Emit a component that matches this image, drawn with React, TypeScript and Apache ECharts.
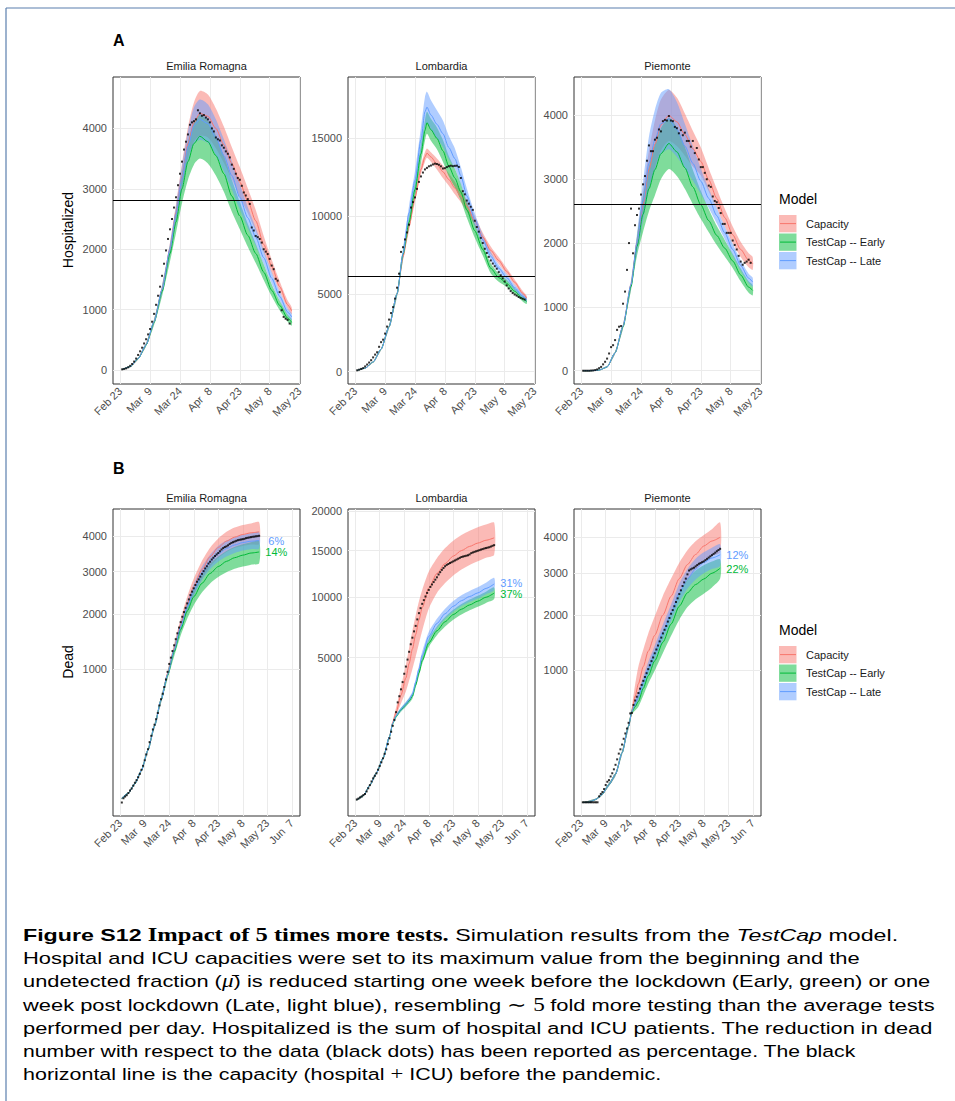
import React, { useEffect, useRef } from 'react';
import * as echarts from 'echarts';

// ---------- styles ----------
const SANS = '"Liberation Sans", Arial, Helvetica, sans-serif';
const SERIF = '"Liberation Serif", "Times New Roman", serif';
const RED = '#F8766D', GREEN = '#00BA38', BLUE = '#619CFF';
const RED_F = 'rgba(248,118,109,0.5)', GREEN_F = 'rgba(0,186,56,0.5)', BLUE_F = 'rgba(97,156,255,0.5)';

// ---------- axes ----------
const tickDaysA = [0, 15, 30, 45, 60, 75, 90];
const tickDaysB = [0, 15, 30, 45, 60, 75, 90, 105];
const tickLabels = ['Feb 23', 'Mar  9', 'Mar 24', 'Apr  8', 'Apr 23', 'May  8', 'May 23', 'Jun  7'];
const regions = ['Emilia Romagna', 'Lombardia', 'Piemonte'];
const modelNames = ['Capacity', 'TestCap -- Early', 'TestCap -- Late'];

// ---------- A: Hospitalized ----------
const gridA = [1, 5, 9, 13, 17, 21, 25, 28, 31, 34, 37, 40, 44, 48, 52, 56, 60, 64, 68, 72, 76, 80, 84, 86];
const gridL = [1, 5, 9, 13, 17, 21, 24, 27, 30, 33, 35, 36, 38, 41, 44, 47, 50, 53, 56, 60, 64, 68, 72, 76, 80, 84, 86];

const erCapMean = [10, 55, 190, 420, 800, 1330, 2000, 2600, 3200, 3750, 4100, 4250, 4200, 4000, 3730, 3420, 3110, 2800, 2470, 2080, 1720, 1380, 1080, 980];
const erCapLo = [9, 52, 180, 400, 765, 1270, 1900, 2460, 3000, 3500, 3780, 3880, 3850, 3670, 3430, 3160, 2870, 2600, 2300, 1950, 1610, 1300, 1020, 925];
const erCapHi = [11, 58, 200, 445, 840, 1400, 2110, 2750, 3420, 4020, 4430, 4620, 4560, 4330, 4030, 3690, 3360, 3010, 2650, 2220, 1830, 1470, 1150, 1040];
const erEarlyMean = [10, 55, 188, 415, 790, 1300, 1930, 2450, 3000, 3450, 3750, 3870, 3780, 3550, 3250, 2880, 2550, 2230, 1930, 1620, 1320, 1070, 860, 790];
const erEarlyLo = [9, 52, 178, 392, 745, 1220, 1800, 2270, 2760, 3150, 3400, 3500, 3420, 3220, 2950, 2620, 2330, 2040, 1770, 1490, 1220, 990, 800, 735];
const erEarlyHi = [11, 58, 198, 440, 835, 1380, 2060, 2640, 3250, 3760, 4100, 4220, 4130, 3880, 3550, 3150, 2780, 2420, 2090, 1750, 1420, 1150, 920, 845];
const erLateMean = [10, 55, 190, 420, 800, 1330, 2000, 2580, 3180, 3700, 4050, 4150, 4080, 3850, 3550, 3220, 2860, 2520, 2200, 1860, 1520, 1220, 960, 880];
const erLateLo = [9, 52, 180, 400, 765, 1270, 1900, 2450, 2990, 3450, 3750, 3810, 3760, 3560, 3290, 2990, 2660, 2350, 2060, 1750, 1430, 1150, 905, 830];
const erLateHi = [11, 58, 200, 445, 840, 1400, 2100, 2720, 3380, 3950, 4350, 4480, 4400, 4150, 3820, 3460, 3080, 2700, 2350, 1980, 1620, 1300, 1020, 935];
const erHospData = [12, 18, 28, 45, 70, 100, 140, 190, 250, 310, 370, 440, 510, 590, 680, 800, 930, 1080, 1230, 1380, 1560, 1760, 1980, 2170, 2330, 2500, 2690, 2860, 3060, 3250, 3450, 3650, 3780, 3900, 4060, 4100, 4120, 4150, 4300, 4250, 4210, 4220, 4180, 4150, 4100, 4000, 3950, 3850, 3820, 3800, 3720, 3680, 3620, 3580, 3520, 3400, 3330, 3250, 3180, 3150, 3050, 2940, 2890, 2830, 2750, 2360, 2310, 2220, 2200, 2170, 2110, 2000, 1960, 1920, 1840, 1730, 1670, 1510, 1480, 1290, 990, 880, 850, 830, 770];

const lomCapMean = [80, 230, 620, 1450, 2900, 5000, 7400, 9350, 11200, 13000, 13800, 14050, 13800, 13350, 12850, 12350, 11800, 11270, 10650, 9700, 8650, 7800, 7150, 6450, 5750, 5050, 4740];
const lomCapLo = [77, 223, 600, 1405, 2810, 4850, 7150, 9050, 10900, 12700, 13500, 13750, 13500, 13000, 12450, 11950, 11400, 10890, 10300, 9400, 8370, 7550, 6930, 6250, 5570, 4900, 4600];
const lomCapHi = [83, 237, 640, 1495, 2990, 5150, 7650, 9650, 11500, 13300, 14100, 14350, 14100, 13700, 13250, 12750, 12200, 11650, 11000, 10000, 8930, 8050, 7370, 6650, 5930, 5200, 4880];
const lomEarlyMean = [80, 230, 620, 1450, 2900, 5000, 7550, 9600, 11700, 14000, 15500, 16000, 15550, 15000, 14200, 13200, 12450, 11550, 10400, 9060, 7850, 6650, 6050, 5680, 5170, 4700, 4520];
const lomEarlyLo = [77, 223, 600, 1405, 2810, 4850, 7250, 9200, 11200, 13400, 14850, 15300, 14850, 14300, 13500, 12550, 11850, 11000, 9900, 8610, 7470, 6330, 5780, 5450, 4970, 4520, 4360];
const lomEarlyHi = [83, 237, 640, 1495, 2990, 5150, 7850, 10000, 12200, 14600, 16150, 16700, 16250, 15700, 14900, 13850, 13050, 12100, 10900, 9510, 8230, 6970, 6320, 5910, 5370, 4880, 4680];
const lomLateMean = [80, 230, 620, 1450, 2900, 5000, 7600, 10200, 12300, 14900, 16700, 17000, 16500, 15900, 15300, 14400, 13700, 12600, 11300, 9780, 8480, 7420, 6650, 6050, 5400, 4850, 4630];
const lomLateLo = [77, 223, 600, 1405, 2810, 4850, 7300, 9750, 11700, 14100, 15750, 16000, 15550, 15000, 14450, 13650, 13050, 12050, 10820, 9380, 8160, 7150, 6420, 5850, 5220, 4690, 4480];
const lomLateHi = [83, 237, 640, 1495, 2990, 5150, 7900, 10650, 12900, 15700, 17650, 18000, 17450, 16800, 16150, 15150, 14350, 13150, 11780, 10180, 8800, 7690, 6880, 6250, 5580, 5010, 4780];
const lomHospData = [90, 130, 180, 230, 340, 460, 590, 740, 920, 1100, 1250, 1600, 1900, 2060, 2450, 2900, 3350, 3770, 4150, 4700, 5400, 6300, 7700, 8000, 8500, 8950, 9450, 10550, 10900, 11200, 11750, 12200, 12550, 12800, 13000, 13100, 13200, 13250, 13320, 13370, 13350, 13300, 13200, 13060, 13080, 13150, 13210, 13240, 13210, 13230, 13240, 13160, 12450, 11600, 11400, 11000, 10800, 10600, 10400, 9700, 9300, 9000, 8600, 8270, 7900, 7630, 7380, 7150, 6950, 6780, 6620, 6400, 6200, 6000, 5800, 5550, 5350, 5180, 5060, 4960, 4890, 4800, 4740, 4690, 4640];

const pieCapMean = [0, 0, 10, 60, 280, 700, 1350, 2000, 2600, 3150, 3550, 3850, 4000, 3900, 3700, 3480, 3280, 2990, 2700, 2400, 2130, 1900, 1730, 1680];
const pieCapLo = [0, 0, 8, 55, 265, 670, 1290, 1900, 2400, 2850, 3180, 3450, 3600, 3520, 3370, 3200, 3060, 2810, 2550, 2260, 2000, 1780, 1620, 1580];
const pieCapHi = [0, 1, 12, 65, 295, 730, 1410, 2100, 2800, 3450, 3920, 4250, 4400, 4280, 4030, 3760, 3500, 3170, 2850, 2540, 2260, 2020, 1840, 1780];
const pieEarlyMean = [0, 0, 10, 60, 280, 690, 1320, 1950, 2450, 2850, 3150, 3400, 3560, 3430, 3180, 2880, 2600, 2350, 2120, 1920, 1720, 1500, 1310, 1260];
const pieEarlyLo = [0, 0, 8, 55, 265, 660, 1260, 1800, 2170, 2500, 2750, 3000, 3160, 3050, 2850, 2610, 2380, 2170, 1970, 1790, 1610, 1400, 1220, 1180];
const pieEarlyHi = [0, 1, 12, 65, 295, 720, 1380, 2100, 2730, 3200, 3550, 3800, 3960, 3810, 3510, 3150, 2820, 2530, 2270, 2050, 1830, 1600, 1400, 1340];
const pieLateMean = [0, 0, 10, 60, 280, 700, 1350, 2000, 2650, 3250, 3620, 3870, 3940, 3780, 3520, 3250, 2970, 2700, 2430, 2160, 1900, 1650, 1450, 1390];
const pieLateLo = [0, 0, 8, 55, 265, 670, 1290, 1850, 2350, 2830, 3150, 3390, 3470, 3350, 3170, 2980, 2770, 2550, 2310, 2060, 1810, 1570, 1380, 1320];
const pieLateHi = [0, 1, 12, 65, 295, 730, 1410, 2150, 2950, 3670, 4090, 4350, 4410, 4210, 3870, 3520, 3170, 2850, 2550, 2260, 1990, 1730, 1520, 1460];
const pieHospData = [0, 0, 0, 0, 3, 5, 10, 20, 40, 60, 100, 140, 190, 270, 370, 400, 480, 640, 690, 700, 1050, 1240, 1580, 2000, 2540, 1840, 2280, 2440, 2540, 2760, 2920, 3050, 3290, 3530, 3440, 3440, 3620, 3650, 3780, 3750, 3910, 3930, 3920, 3990, 3920, 3910, 3820, 3800, 3720, 3770, 3690, 3730, 3600, 3600, 3510, 3600, 3410, 3490, 3310, 3190, 3190, 3100, 3000, 2900, 2880, 2730, 2660, 2640, 2550, 2470, 2300, 2300, 2160, 2160, 2160, 2040, 1970, 1900, 1800, 1710, 1660, 1690, 1710, 1740, 1690];

const hospCapacity = [2815, 6105, 2604];

// ---------- B: Dead ----------
const gridB1 = [1, 5, 9, 13, 17, 21, 25, 29, 33, 37, 41, 45, 50, 55, 60, 65, 70, 75, 80, 85];
const gridB2 = [1, 5, 9, 13, 17, 21, 23, 25, 28, 31, 33, 35, 37, 39, 41, 45, 50, 55, 60, 65, 70, 75, 80, 85];
const gridB3 = [1, 5, 9, 13, 17, 21, 25, 29, 31, 33, 35, 38, 41, 45, 50, 55, 60, 65, 70, 75, 80, 85];

const erDCapMean = [1, 5, 20, 58, 155, 330, 590, 930, 1330, 1780, 2220, 2620, 3050, 3400, 3660, 3840, 3960, 4040, 4090, 4120];
const erDCapLo = [0.6, 4.5, 18, 54, 146, 312, 560, 880, 1250, 1660, 2060, 2420, 2800, 3120, 3360, 3530, 3640, 3700, 3740, 3760];
const erDCapHi = [1.4, 5.5, 22, 62, 164, 348, 620, 980, 1420, 1900, 2380, 2820, 3280, 3650, 3920, 4120, 4250, 4330, 4380, 4420];
const erDEarlyMean = [1, 5, 20, 58, 155, 330, 590, 910, 1280, 1680, 2060, 2380, 2700, 2950, 3130, 3270, 3370, 3440, 3500, 3530];
const erDEarlyLo = [0.6, 4.5, 18, 54, 146, 312, 560, 860, 1200, 1570, 1900, 2190, 2480, 2700, 2860, 2980, 3070, 3130, 3180, 3220];
const erDEarlyHi = [1.4, 5.5, 22, 62, 164, 348, 620, 960, 1360, 1800, 2220, 2580, 2920, 3200, 3400, 3560, 3670, 3750, 3810, 3850];
const erDLateMean = [1, 5, 20, 58, 155, 330, 590, 920, 1310, 1740, 2160, 2540, 2950, 3260, 3480, 3630, 3730, 3800, 3840, 3860];
const erDLateLo = [0.6, 4.5, 18, 54, 146, 312, 560, 880, 1250, 1650, 2050, 2400, 2780, 3060, 3260, 3400, 3500, 3570, 3610, 3630];
const erDLateHi = [1.4, 5.5, 22, 62, 164, 348, 620, 960, 1380, 1830, 2280, 2680, 3120, 3450, 3700, 3860, 3960, 4030, 4080, 4110];
const erDeadData = [0, 1, 2, 3, 5, 8, 11, 16, 22, 28, 36, 46, 60, 76, 100, 130, 160, 205, 250, 300, 340, 390, 450, 530, 600, 665, 750, 850, 960, 1080, 1180, 1290, 1390, 1500, 1610, 1720, 1830, 1940, 2040, 2130, 2230, 2320, 2420, 2500, 2580, 2660, 2740, 2800, 2870, 2940, 3010, 3080, 3140, 3210, 3260, 3320, 3370, 3420, 3460, 3500, 3550, 3600, 3640, 3670, 3690, 3720, 3760, 3790, 3810, 3830, 3850, 3870, 3880, 3890, 3900, 3910, 3930, 3940, 3950, 3960, 3970, 3975, 3985, 3990, 4000];

const lomDCapMean = [3, 15, 80, 220, 480, 1050, 1550, 1950, 2750, 3700, 4600, 5600, 6700, 7900, 9000, 10900, 12400, 13500, 14350, 15000, 15500, 15900, 16250, 16550];
const lomDCapLo = [2.5, 13, 74, 205, 455, 1000, 1480, 1800, 2350, 2950, 3550, 4250, 5050, 6000, 7000, 8900, 10400, 11400, 12200, 12850, 13350, 13750, 14150, 14500];
const lomDCapHi = [3.5, 17, 86, 235, 505, 1100, 1620, 2150, 3200, 4500, 5700, 7000, 8300, 9600, 10700, 12600, 14100, 15300, 16200, 16900, 17450, 17900, 18250, 18500];
const lomDEarlyMean = [3, 15, 80, 220, 480, 1050, 1500, 1780, 2060, 2300, 2480, 2700, 3300, 4000, 4800, 6050, 7000, 7750, 8370, 8850, 9250, 9600, 9980, 10380];
const lomDEarlyLo = [2.5, 13, 74, 205, 455, 1000, 1450, 1720, 1980, 2200, 2370, 2580, 3150, 3800, 4560, 5750, 6650, 7350, 7930, 8380, 8760, 9080, 9440, 9800];
const lomDEarlyHi = [3.5, 17, 86, 235, 505, 1100, 1550, 1840, 2140, 2400, 2600, 2830, 3450, 4200, 5050, 6350, 7350, 8150, 8800, 9330, 9750, 10120, 10520, 10950];
const lomDLateMean = [3, 15, 80, 220, 480, 1050, 1520, 1800, 2080, 2330, 2520, 2800, 3450, 4250, 5150, 6550, 7600, 8450, 9120, 9650, 10050, 10400, 10850, 11300];
const lomDLateLo = [2.5, 13, 74, 205, 455, 1000, 1470, 1740, 2000, 2230, 2410, 2680, 3300, 4050, 4880, 6200, 7200, 8000, 8630, 9140, 9520, 9850, 10280, 10700];
const lomDLateHi = [3.5, 17, 86, 235, 505, 1100, 1570, 1860, 2160, 2430, 2640, 2940, 3620, 4460, 5420, 6900, 8000, 8900, 9620, 10180, 10600, 10960, 11430, 11950];
const lomDeadData = [4, 6, 9, 12, 17, 22, 35, 55, 80, 115, 150, 180, 215, 270, 330, 400, 480, 580, 690, 830, 1000, 1210, 1420, 1640, 1960, 2400, 2700, 3060, 3460, 3950, 4400, 4860, 5400, 5950, 6450, 6950, 7400, 7950, 8500, 8950, 9350, 9700, 10050, 10400, 10700, 11000, 11250, 11500, 11750, 12000, 12300, 12550, 12800, 13000, 13200, 13350, 13450, 13550, 13650, 13750, 13850, 13950, 14050, 14150, 14250, 14300, 14350, 14400, 14450, 14550, 14700, 14780, 14850, 14920, 14980, 15050, 15120, 15180, 15250, 15300, 15350, 15400, 15480, 15570, 15650];

const pieDCapMean = [0, 0, 0.5, 4, 18, 45, 140, 330, 470, 640, 800, 1050, 1300, 1590, 2000, 2420, 2850, 3220, 3500, 3740, 3890, 4000];
const pieDCapLo = [0, 0, 0.3, 3, 15, 40, 130, 310, 430, 540, 620, 820, 1030, 1280, 1650, 2050, 2460, 2800, 3080, 3300, 3450, 3560];
const pieDCapHi = [0, 0.2, 0.8, 5, 21, 50, 150, 350, 520, 790, 1050, 1330, 1620, 1970, 2430, 2850, 3270, 3620, 3880, 4070, 4250, 4460];
const pieDEarlyMean = [0, 0, 0.5, 4, 18, 45, 140, 330, 470, 520, 580, 740, 910, 1140, 1460, 1810, 2190, 2500, 2700, 2840, 2990, 3120];
const pieDEarlyLo = [0, 0, 0.3, 3, 15, 40, 130, 310, 440, 480, 520, 650, 800, 990, 1270, 1580, 1900, 2170, 2350, 2480, 2630, 2850];
const pieDEarlyHi = [0, 0.2, 0.8, 5, 21, 50, 150, 350, 500, 570, 650, 840, 1030, 1300, 1660, 2050, 2480, 2830, 3060, 3200, 3300, 3360];
const pieDLateMean = [0, 0, 0.5, 4, 18, 45, 140, 330, 470, 560, 640, 820, 1020, 1280, 1650, 2050, 2500, 2850, 3100, 3280, 3400, 3490];
const pieDLateLo = [0, 0, 0.3, 3, 15, 40, 130, 310, 450, 520, 590, 750, 930, 1160, 1500, 1870, 2280, 2600, 2830, 2990, 3100, 3180];
const pieDLateHi = [0, 0.2, 0.8, 5, 21, 50, 150, 350, 490, 600, 700, 900, 1120, 1400, 1800, 2230, 2720, 3100, 3380, 3560, 3690, 3790];
const pieDeadData = [0, 0, 0, 0, 0, 0, 0, 0, 0, 0, 2, 4, 6, 10, 17, 24, 28, 38, 48, 62, 80, 105, 135, 160, 190, 230, 270, 310, 360, 450, 455, 540, 590, 635, 680, 735, 785, 840, 895, 950, 1010, 1070, 1135, 1195, 1265, 1330, 1400, 1475, 1545, 1625, 1695, 1770, 1860, 1935, 2025, 2105, 2190, 2285, 2370, 2470, 2560, 2665, 2755, 2850, 2960, 3060, 3090, 3115, 3135, 3170, 3205, 3240, 3260, 3285, 3305, 3340, 3375, 3410, 3445, 3480, 3515, 3550, 3590, 3625, 3660];

// reduction labels: [text, day, value]
const erPct: [string, number, number][] = [['6%', 95.5, 3855], ['14%', 95.5, 3517]];
const lomPct: [string, number, number][] = [['31%', 95.5, 11450], ['37%', 95.5, 10300]];
const piePct: [string, number, number][] = [['12%', 95.5, 3485], ['22%', 95.5, 3101]];

// ---------- caption ----------
const captionLines: [string, string][][] = [
  [['fb', 'Figure S12'], ['sb', ' Impact of 5 times more tests.'], ['n', ' Simulation results from the '], ['it', 'TestCap'], ['n', ' model.']],
  [['n', 'Hospital and ICU capacities were set to its maximum value from the beginning and the']],
  [['n', 'undetected fraction ('], ['si', '\u03bc\u0304'], ['n', ') is reduced starting one week before the lockdown (Early, green) or one']],
  [['n', 'week post lockdown (Late, light blue), resembling '], ['sr', '\u223c 5'], ['n', ' fold more testing than the average tests']],
  [['n', 'performed per day. Hospitalized is the sum of hospital and ICU patients. The reduction in dead']],
  [['n', 'number with respect to the data (black dots) has been reported as percentage. The black']],
  [['n', 'horizontal line is the capacity (hospital '], ['sr', '+'], ['n', ' ICU) before the pandemic.']],
];
const captionRight = [898, 860, 931, 935, 933, 856, 661];

type Model = { lo: number[]; mean: number[]; hi: number[] };
interface Panel {
  title: string; left: number; top: number; days: number[];
  cap: Model; early: Model; late: Model; dots: number[];
  yMin: number; yMax: number; yTicks: number[]; sqrt: boolean;
  xMin: number; xMax: number; xTicks: number[];
  capacity?: number; pct?: [string, number, number][];
}

const GL = [113, 348, 574];
const GW = 187, GH = 307, TOPA = 77, TOPB = 509;
const SM = 0.25;

function buildOption() {
  const panels: Panel[] = [
    { title: regions[0], left: GL[0], top: TOPA, days: gridA, cap: { lo: erCapLo, mean: erCapMean, hi: erCapHi }, early: { lo: erEarlyLo, mean: erEarlyMean, hi: erEarlyHi }, late: { lo: erLateLo, mean: erLateMean, hi: erLateHi }, dots: erHospData, yMin: -231, yMax: 4851, yTicks: [0, 1000, 2000, 3000, 4000], sqrt: false, xMin: -3.6, xMax: 90.2, xTicks: tickDaysA, capacity: hospCapacity[0] },
    { title: regions[1], left: GL[1], top: TOPA, days: gridL, cap: { lo: lomCapLo, mean: lomCapMean, hi: lomCapHi }, early: { lo: lomEarlyLo, mean: lomEarlyMean, hi: lomEarlyHi }, late: { lo: lomLateLo, mean: lomLateMean, hi: lomLateHi }, dots: lomHospData, yMin: -790, yMax: 18940, yTicks: [0, 5000, 10000, 15000], sqrt: false, xMin: -3.6, xMax: 90.2, xTicks: tickDaysA, capacity: hospCapacity[1] },
    { title: regions[2], left: GL[2], top: TOPA, days: gridA, cap: { lo: pieCapLo, mean: pieCapMean, hi: pieCapHi }, early: { lo: pieEarlyLo, mean: pieEarlyMean, hi: pieEarlyHi }, late: { lo: pieLateLo, mean: pieLateMean, hi: pieLateHi }, dots: pieHospData, yMin: -208, yMax: 4602, yTicks: [0, 1000, 2000, 3000, 4000], sqrt: false, xMin: -3.6, xMax: 90.2, xTicks: tickDaysA, capacity: hospCapacity[2] },
    { title: regions[0], left: GL[0], top: TOPB, days: gridB1, cap: { lo: erDCapLo, mean: erDCapMean, hi: erDCapHi }, early: { lo: erDEarlyLo, mean: erDEarlyMean, hi: erDEarlyHi }, late: { lo: erDLateLo, mean: erDLateMean, hi: erDLateHi }, dots: erDeadData, yMin: -3.2, yMax: 69.6, yTicks: [1000, 2000, 3000, 4000], sqrt: true, xMin: -4.4, xMax: 110, xTicks: tickDaysB, pct: erPct },
    { title: regions[1], left: GL[1], top: TOPB, days: gridB2, cap: { lo: lomDCapLo, mean: lomDCapMean, hi: lomDCapHi }, early: { lo: lomDEarlyLo, mean: lomDEarlyMean, hi: lomDEarlyHi }, late: { lo: lomDLateLo, mean: lomDLateMean, hi: lomDLateHi }, dots: lomDeadData, yMin: -6.0, yMax: 142.6, yTicks: [5000, 10000, 15000, 20000], sqrt: true, xMin: -4.4, xMax: 110, xTicks: tickDaysB, pct: lomPct },
    { title: regions[2], left: GL[2], top: TOPB, days: gridB3, cap: { lo: pieDCapLo, mean: pieDCapMean, hi: pieDCapHi }, early: { lo: pieDEarlyLo, mean: pieDEarlyMean, hi: pieDEarlyHi }, late: { lo: pieDLateLo, mean: pieDLateMean, hi: pieDLateHi }, dots: pieDeadData, yMin: -3.27, yMax: 70.0, yTicks: [1000, 2000, 3000, 4000], sqrt: true, xMin: -4.4, xMax: 110, xTicks: tickDaysB, pct: piePct },
  ];

  const grid: any[] = [];
  const xAxis: any[] = [];
  const yAxis: any[] = [];
  const series: any[] = [];
  const graphic: any[] = [];

  panels.forEach((p, i) => {
    const f = p.sqrt ? (v: number) => Math.sqrt(Math.max(v, 0)) : (v: number) => v;
    grid.push({ left: p.left, top: p.top, width: GW, height: GH, show: true, backgroundColor: '#FFFFFF', borderColor: '#333333', borderWidth: 1, containLabel: false, outerBoundsMode: 'none' });
    xAxis.push({
      type: 'value', gridIndex: i, min: p.xMin, max: p.xMax,
      axisLine: { show: false }, splitLine: { show: false },
      axisTick: { show: true, customValues: p.xTicks, length: 3, lineStyle: { color: '#333333', width: 1 } },
      axisLabel: { customValues: p.xTicks, rotate: 45, margin: 5, fontSize: 11, color: '#4D4D4D', fontFamily: SANS, formatter: (v: number) => tickLabels[Math.round(v / 15)] },
    });
    yAxis.push({
      type: 'value', gridIndex: i, min: p.yMin, max: p.yMax,
      axisLine: { show: false }, splitLine: { show: false },
      axisTick: { show: true, customValues: p.yTicks.map(f), length: 3, lineStyle: { color: '#333333', width: 1 } },
      axisLabel: { customValues: p.yTicks.map(f), margin: 6, fontSize: 11, color: '#4D4D4D', fontFamily: SANS, formatter: (v: number) => String(p.sqrt ? Math.round((v * v) / 100) * 100 : Math.round(v)) },
    });
    const ax = { xAxisIndex: i, yAxisIndex: i };
    // grid lines
    series.push({
      type: 'line', ...ax, data: [], z: 1, silent: true,
      markLine: {
        z: 1, silent: true, symbol: ['none', 'none'], label: { show: false }, animation: false,
        lineStyle: { color: '#EBEBEB', width: 1, type: 'solid' }, emphasis: { disabled: true },
        data: [...p.xTicks.map((v) => ({ xAxis: v })), ...p.yTicks.map((v) => ({ yAxis: f(v) }))],
      },
    });
    const models: [Model, string, string][] = [[p.cap, RED, RED_F], [p.early, GREEN, GREEN_F], [p.late, BLUE, BLUE_F]];
    // ribbons (custom polygons through the axes' scales)
    models.forEach(([m, , fill]) => {
      series.push({
        type: 'custom', ...ax, z: 2, silent: true, clip: true,
        data: [[p.days[0], f(m.lo[0])]],
        encode: { x: 0, y: 1 },
        renderItem: (_params: any, api: any) => {
          const up = p.days.map((d, k) => api.coord([d, f(m.hi[k])]));
          const dn = p.days.map((d, k) => api.coord([d, f(m.lo[k])])).reverse();
          return { type: 'polygon', silent: true, shape: { points: up.concat(dn), smooth: SM }, style: { fill } };
        },
      });
    });
    models.forEach(([m, c]) => {
      series.push({ type: 'line', ...ax, data: p.days.map((d, k) => [d, f(m.mean[k])]), symbol: 'none', smooth: SM, smoothMonotone: 'x', lineStyle: { color: c, width: 1 }, z: 3, silent: true });
    });
    series.push({ type: 'scatter', ...ax, data: p.dots.map((v, k) => [k + 1, f(v)]), symbol: 'rect', symbolSize: 2, itemStyle: { color: '#000000' }, z: 4, silent: true });
    if (p.capacity !== undefined) {
      series.push({
        type: 'line', ...ax, data: [], z: 5, silent: true,
        markLine: { z: 5, silent: true, symbol: ['none', 'none'], label: { show: false }, animation: false, lineStyle: { color: '#000000', width: 1.1, type: 'solid' }, emphasis: { disabled: true }, data: [{ yAxis: p.capacity }] },
      });
    }
    (p.pct || []).forEach(([txt, d, v], k) => {
      series.push({
        type: 'scatter', ...ax, data: [[d, f(v)]], symbol: 'circle', symbolSize: 1, itemStyle: { color: 'rgba(0,0,0,0)' }, z: 6, silent: true, clip: false,
        label: { show: true, position: 'inside', formatter: txt, color: k === 0 ? BLUE : GREEN, opacity: 1, fontSize: 11, fontFamily: SANS },
      });
    });
    // strip title
    graphic.push({ type: 'text', x: p.left + GW / 2, y: p.top - 11, silent: true, style: { text: p.title, fontSize: 11, fontFamily: SANS, fill: '#1A1A1A', textAlign: 'center', align: 'center', textVerticalAlign: 'middle', verticalAlign: 'middle' } });
  });

  // frame
  graphic.push({ type: 'line', silent: true, shape: { x1: 6, y1: 8, x2: 955, y2: 8 }, style: { stroke: '#5B7FAE', lineWidth: 1.2 } });
  graphic.push({ type: 'line', silent: true, shape: { x1: 6, y1: 8, x2: 6, y2: 1101 }, style: { stroke: '#5B7FAE', lineWidth: 1.2 } });
  // panel letters
  [['A', 40], ['B', 468]].forEach(([t, y]) => {
    graphic.push({ type: 'text', x: 113, y: y as number, silent: true, style: { text: t as string, fontSize: 16, fontWeight: 'bold', fontFamily: SANS, fill: '#000', textVerticalAlign: 'middle', verticalAlign: 'middle' } });
  });
  // y titles
  [['Hospitalized', 230], ['Dead', 662]].forEach(([t, y]) => {
    graphic.push({ type: 'text', x: 68, y: y as number, rotation: Math.PI / 2, silent: true, style: { text: t as string, fontSize: 14, fontFamily: SANS, fill: '#000', textAlign: 'center', align: 'center', textVerticalAlign: 'middle', verticalAlign: 'middle' } });
  });
  // legends
  const keyCols: [string, string][] = [[RED, RED_F], [GREEN, GREEN_F], [BLUE, BLUE_F]];
  [199, 630].forEach((ty) => {
    graphic.push({ type: 'text', x: 779, y: ty, silent: true, style: { text: 'Model', fontSize: 14, fontFamily: SANS, fill: '#000', textVerticalAlign: 'middle', verticalAlign: 'middle' } });
    keyCols.forEach(([c, fc], k) => {
      const y0 = ty + 16 + k * 18.5;
      graphic.push({ type: 'rect', silent: true, shape: { x: 779, y: y0, width: 17.5, height: 17.3 }, style: { fill: fc } });
      graphic.push({ type: 'line', silent: true, shape: { x1: 780, y1: y0 + 8.6, x2: 796, y2: y0 + 8.6 }, style: { stroke: c, lineWidth: 1 } });
      graphic.push({ type: 'text', x: 806, y: y0 + 8.6, silent: true, style: { text: modelNames[k], fontSize: 11, fontFamily: SANS, fill: '#1A1A1A', textVerticalAlign: 'middle', verticalAlign: 'middle' } });
    });
  });

  // caption
  const CFS = 17;
  const rich: any = {
    n: { fontFamily: SANS, fontSize: CFS, fontWeight: 'normal', fontStyle: 'normal', fill: '#000' },
    fb: { fontFamily: SANS, fontSize: CFS, fontWeight: 'bold', fontStyle: 'normal', fill: '#000' },
    sb: { fontFamily: SERIF, fontSize: CFS + 1, fontWeight: 'bold', fontStyle: 'normal', fill: '#000' },
    it: { fontFamily: SANS, fontSize: CFS, fontWeight: 'normal', fontStyle: 'italic', fill: '#000' },
    si: { fontFamily: SERIF, fontSize: CFS + 1, fontWeight: 'normal', fontStyle: 'italic', fill: '#000' },
    sr: { fontFamily: SERIF, fontSize: CFS + 1, fontWeight: 'normal', fontStyle: 'normal', fill: '#000' },
  };
  const ctx = document.createElement('canvas').getContext('2d') as CanvasRenderingContext2D;
  captionLines.forEach((segs, li) => {
    let w = 0;
    segs.forEach(([k, t]) => {
      const s = rich[k];
      ctx.font = `${s.fontStyle} ${s.fontWeight} ${s.fontSize}px ${s.fontFamily}`;
      w += ctx.measureText(t).width;
    });
    const target = captionRight[li] - 23;
    const sx = w > 0 ? target / w : 1;
    graphic.push({
      type: 'text', x: 23, y: 935 + li * 23.2, scaleX: sx, silent: true,
      style: { text: segs.map(([k, t]) => `{${k}|${t}}`).join(''), rich, fontSize: CFS, fontFamily: SANS, fill: '#000', textVerticalAlign: 'middle', verticalAlign: 'middle' },
    });
  });

  return {
    animation: false,
    backgroundColor: '#FFFFFF',
    textStyle: { fontFamily: SANS },
    grid, xAxis, yAxis, series,
    graphic: { elements: graphic },
  };
}

export default function App() {
  const ref = useRef<HTMLDivElement>(null);
  useEffect(() => {
    if (!ref.current) return;
    const chart = echarts.init(ref.current, null, { renderer: 'svg' });
    chart.setOption(buildOption() as any);
    return () => chart.dispose();
  }, []);
  return <div ref={ref} style={{ position: 'absolute', left: 0, top: 0, width: 955, height: 1101, background: '#fff' }} />;
}
